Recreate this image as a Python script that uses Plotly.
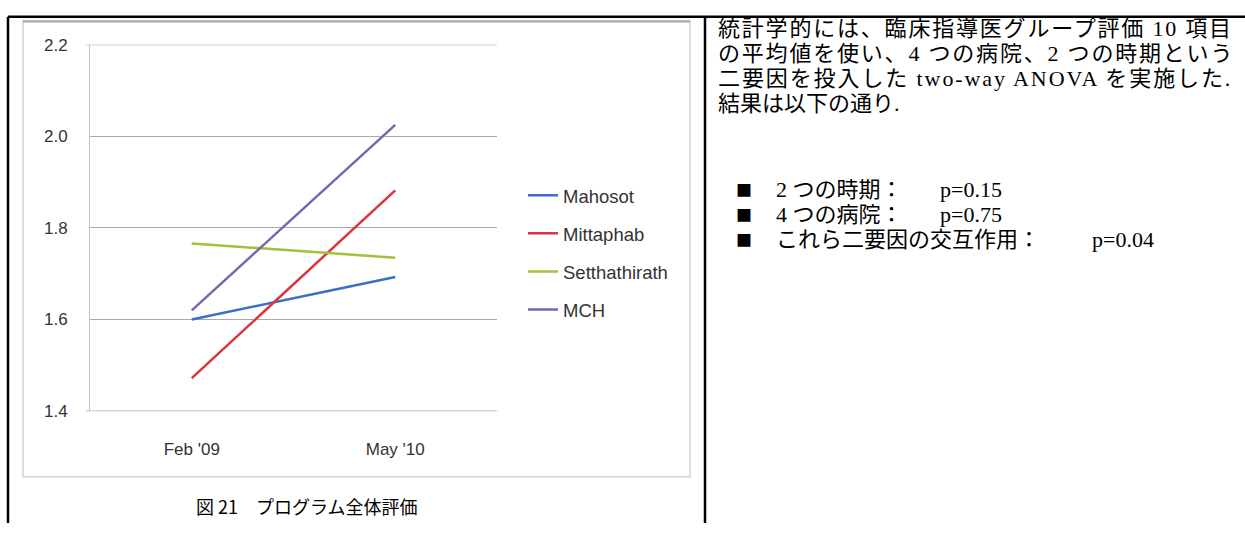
import plotly.graph_objects as go

W, H = 1245, 533

# Survey periods and mean evaluation scores per hospital
periods = ["Feb '09", "May '10"]
mahosot = [1.60, 1.693]
mittaphab = [1.472, 1.882]
setthathirath = [1.766, 1.735]
mch = [1.62, 2.025]

series_names = ["Mahosot", "Mittaphab", "Setthathirath", "MCH"]
series_values = [mahosot, mittaphab, setthathirath, mch]
series_colors = ["#3A6FC8", "#D9343F", "#9DC43A", "#7469B0"]

y_ticks = [1.4, 1.6, 1.8, 2.0, 2.2]
y_tick_text = ["1.4", "1.6", "1.8", "2.0", "2.2"]

caption = "図 21　プログラム全体評価"
body_lines = [
    "統計学的には、臨床指導医グループ評価 10 項目",
    "の平均値を使い、4 つの病院、2 つの時期という",
    "二要因を投入した two-way ANOVA を実施した.",
    "結果は以下の通り.",
]
# justified lines get a little extra tracking
body_tracking = [1.8, 1.8, 1.9, 0]
factor_labels = ["2 つの時期：", "4 つの病院：", "これら二要因の交互作用："]
factor_p = ["p=0.15", "p=0.75", "p=0.04"]


def px(x):
    return x / W


def py(y):
    return 1 - y / H


fig = go.Figure()
for i, (name, vals, col) in enumerate(zip(series_names, series_values, series_colors)):
    fig.add_trace(go.Scatter(
        x=periods, y=vals, mode="lines", name=name,
        line=dict(color=col, width=2.5),
        legendgroup=f"g{i}",
    ))

chart_font = dict(family="Liberation Sans, Arial, sans-serif", size=17, color="#333333")
legend_font = dict(family="Liberation Sans, Arial, sans-serif", size=18.5, color="#333333")

fig.update_layout(
    width=W, height=H,
    margin=dict(l=0, r=0, t=0, b=0),
    paper_bgcolor="white", plot_bgcolor="white",
    showlegend=True,
    legend=dict(
        x=px(523), y=py(174), xanchor="left", yanchor="top",
        font=legend_font, bgcolor="rgba(0,0,0,0)",
        tracegroupgap=11, itemwidth=30,
    ),
    xaxis=dict(
        domain=[px(90), px(497)], range=[-0.5, 1.5], type="category",
        showgrid=False, zeroline=False, showline=False,
        ticks="", tickfont=chart_font, ticklabelstandoff=26,
        fixedrange=True,
    ),
    yaxis=dict(
        domain=[py(417), py(37)], range=[1.4, 2.2],
        tickvals=y_ticks, ticktext=y_tick_text,
        showgrid=True, gridcolor="#a8a8a8", gridwidth=1.2,
        zeroline=False, showline=True, linecolor="#c4c4c4", linewidth=1,
        ticks="", tickfont=chart_font, ticklabelstandoff=18,
        fixedrange=True,
    ),
)

shapes = []
# frame of the embedded chart picture
shapes.append(dict(type="rect", xref="paper", yref="paper",
                   x0=px(23), x1=px(690), y0=py(485), y1=py(12),
                   line=dict(color="#d2d2d2", width=1.5), layer="below"))
shapes.append(dict(type="line", xref="paper", yref="paper",
                   x0=px(23), x1=px(690), y0=py(13), y1=py(13),
                   line=dict(color="#a8a8a8", width=2)))
# grid lines on the range edges
for edge in (y_ticks[0], y_ticks[-1]):
    shapes.append(dict(type="line", xref="x domain", yref="y",
                       x0=-0.01, x1=1, y0=edge, y1=edge,
                       line=dict(color="#a8a8a8", width=1.2), layer="below"))
# table borders
for x0, y0, x1, y1 in [(8, 8, W, 8), (8, 8, 8, H), (705, 8, 705, H)]:
    shapes.append(dict(type="line", xref="paper", yref="paper",
                       x0=px(x0), x1=px(x1), y0=py(y0), y1=py(y1),
                       line=dict(color="black", width=2.5)))
fig.update_layout(shapes=shapes)

annotations = []
annotations.append(dict(
    text=caption, x=px(306), y=py(515), xref="paper", yref="paper",
    xanchor="center", yanchor="middle", showarrow=False,
    font=dict(family="Noto Sans CJK JP, sans-serif", size=18, color="black"),
))

body_font = dict(family="Liberation Serif, Noto Sans CJK JP, serif", size=22, color="black")
for i, (line, trk) in enumerate(zip(body_lines, body_tracking)):
    txt = f'<span style="letter-spacing:{trk}px">{line}</span>' if trk else line
    annotations.append(dict(
        text=txt, x=px(716), y=py(20 + 26 * i), xref="paper", yref="paper",
        xanchor="left", yanchor="middle", showarrow=False, font=body_font,
    ))
p_positions = [938, 938, 1090]
for i, (lab, p) in enumerate(zip(factor_labels, factor_p)):
    yy = py(187 + 26 * i)
    annotations.append(dict(text="■", x=px(734), y=yy, xref="paper", yref="paper",
                            xanchor="left", yanchor="middle", showarrow=False,
                            font=dict(family="Noto Sans CJK JP", size=16, color="black")))
    annotations.append(dict(text=lab, x=px(774), y=yy, xref="paper", yref="paper",
                            xanchor="left", yanchor="middle", showarrow=False, font=body_font))
    annotations.append(dict(text=p, x=px(p_positions[i]), y=yy, xref="paper", yref="paper",
                            xanchor="left", yanchor="middle", showarrow=False, font=body_font))
fig.update_layout(annotations=annotations)

fig.write_html("out.html", config={"displayModeBar": False},
               post_script="document.body.style.margin='0';")
